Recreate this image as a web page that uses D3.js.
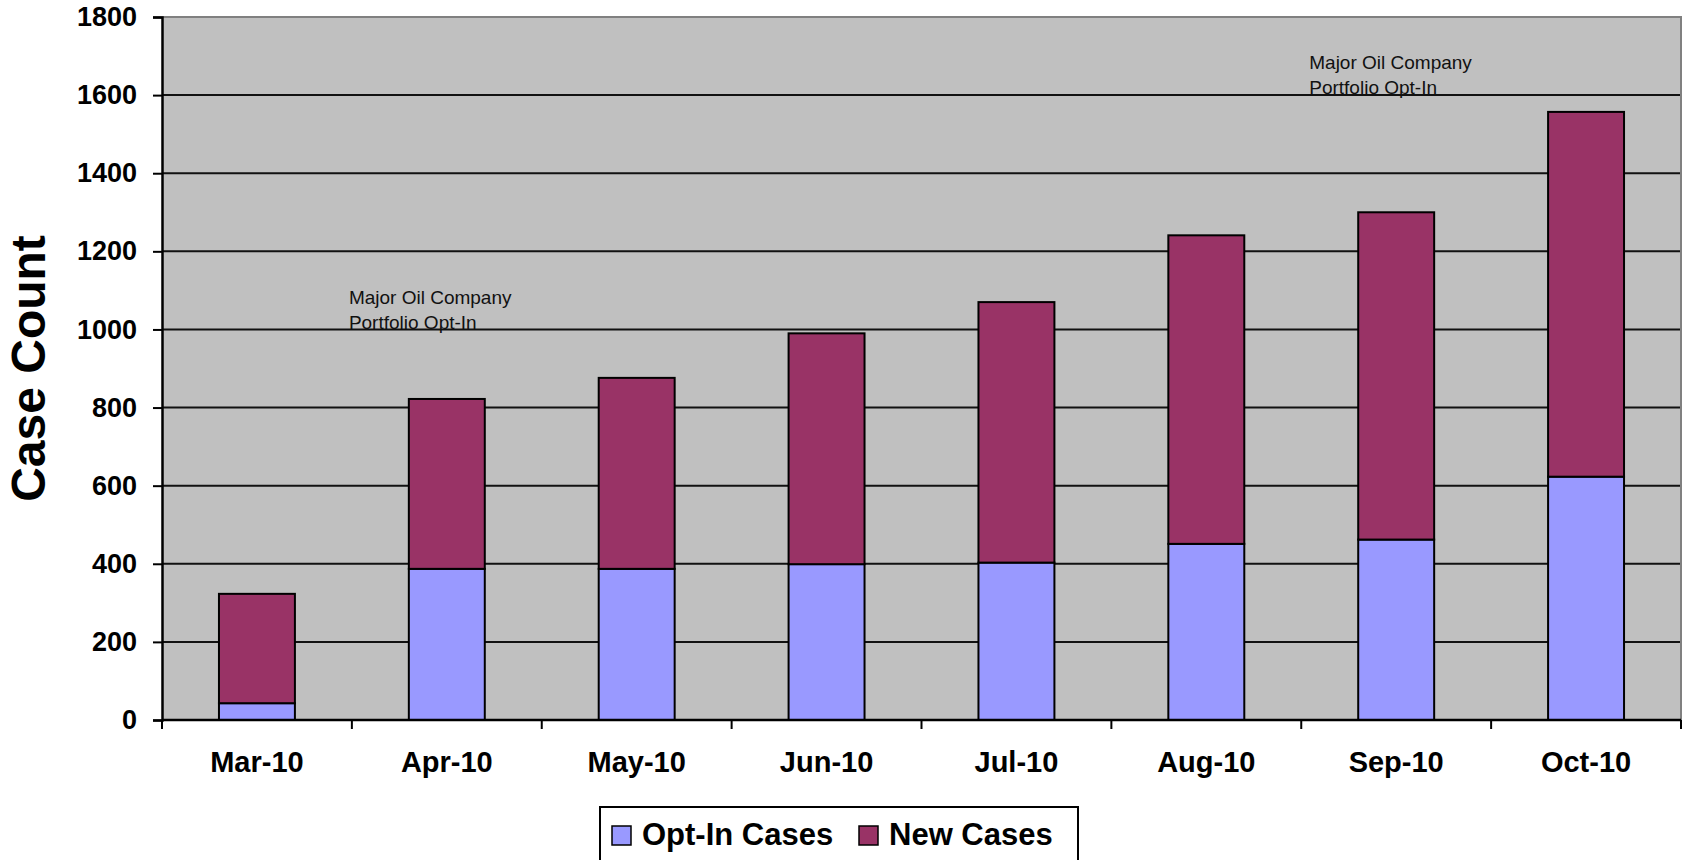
<!DOCTYPE html>
<html>
<head>
<meta charset="utf-8">
<script src="https://cdn.jsdelivr.net/npm/d3@7"></script>
<style>
  body { margin: 0; background: #fff; }
  svg { display: block; font-family: "Liberation Sans", Arial, sans-serif; }
</style>
</head>
<body>
<script>
var months = ["Mar-10", "Apr-10", "May-10", "Jun-10", "Jul-10", "Aug-10", "Sep-10", "Oct-10"];
var optInCases = [43, 387, 387, 399, 403, 451, 462, 623];
var newCases = [280, 435, 489, 591, 667, 790, 838, 934];
var yTicks = [0, 200, 400, 600, 800, 1000, 1200, 1400, 1600, 1800];
var seriesNames = ["Opt-In Cases", "New Cases"];
var noteLines = ["Major Oil Company", "Portfolio Opt-In"];
// where the two notes sit: month they start in, value of first baseline
var noteMonths = ["Apr-10", "Sep-10"];
var noteValues = [1065, 1666];

var width = 1686;
var height = 860;
var colors = ["#9999FF", "#993366"];
var noteShift = [-3, 8];

var plotLeft = 162, plotRight = 1681, plotTop = 17, plotBottom = 720;

var svg = d3.select("body")
  .append("svg")
  .attr("width", width)
  .attr("height", height);

var x = d3.scaleBand()
  .domain(months)
  .range([plotLeft, plotRight])
  .paddingInner(0.6)
  .paddingOuter(0.3);

var y = d3.scaleLinear()
  .domain([0, 1800])
  .range([plotBottom, plotTop]);

var step = x.step();

var rows = months.map(function(m, i){
  return {month: m, optIn: optInCases[i], newC: newCases[i]};
});
var stack = d3.stack().keys(["optIn", "newC"])(rows);

// plot background
svg.append("rect")
  .attr("x", plotLeft)
  .attr("y", plotTop)
  .attr("width", plotRight - plotLeft)
  .attr("height", plotBottom - plotTop)
  .attr("fill", "#C0C0C0");

// gridlines
svg.append("g")
  .selectAll("line")
  .data(yTicks.filter(function(t){ return t > 0 && t < 1800; }))
  .enter()
    .append("line")
    .attr("x1", plotLeft)
    .attr("x2", plotRight)
    .attr("y1", function(d){ return y(d); })
    .attr("y2", function(d){ return y(d); })
    .attr("stroke", "#111")
    .attr("stroke-width", 2);

// top and right border
svg.append("path")
  .attr("d", "M" + plotLeft + "," + plotTop + "H" + plotRight + "V" + plotBottom)
  .attr("fill", "none")
  .attr("stroke", "#808080")
  .attr("stroke-width", 2);

// bars
svg.append("g")
  .selectAll("g")
  .data(stack)
  .enter()
    .append("g")
    .attr("fill", function(d, i){ return colors[i]; })
    .selectAll("rect")
    .data(function(d){ return d; })
    .enter()
      .append("rect")
      .attr("x", function(d){ return x(d.data.month); })
      .attr("y", function(d){ return y(d[1]); })
      .attr("width", x.bandwidth())
      .attr("height", function(d){ return y(d[0]) - y(d[1]); })
      .attr("stroke", "#000")
      .attr("stroke-width", 2);

// y axis
var yAxis = d3.axisLeft(y)
  .tickValues(yTicks)
  .tickFormat(d3.format("d"))
  .tickSize(9)
  .tickPadding(16);

var gy = svg.append("g")
  .attr("transform", "translate(" + plotLeft + ",0)")
  .call(yAxis);
gy.select(".domain").attr("stroke", "#000").attr("stroke-width", 2.5);
gy.selectAll(".tick line").attr("stroke", "#000").attr("stroke-width", 2);
gy.selectAll(".tick text")
  .attr("font-size", 27)
  .attr("font-weight", "bold")
  .attr("font-family", "Liberation Sans, Arial, sans-serif")
  .attr("fill", "#000");

// x axis: labels centred on the months, ticks between them
var xAxis = d3.axisBottom(x).tickSize(0).tickPadding(30);
var gx = svg.append("g")
  .attr("transform", "translate(0," + plotBottom + ")")
  .call(xAxis);
gx.select(".domain").remove();
gx.selectAll(".tick text")
  .attr("font-size", 29)
  .attr("font-weight", "bold")
  .attr("font-family", "Liberation Sans, Arial, sans-serif")
  .attr("fill", "#000")
  .attr("dy", "0.75em");

svg.append("line")
  .attr("x1", plotLeft)
  .attr("x2", plotRight)
  .attr("y1", plotBottom)
  .attr("y2", plotBottom)
  .attr("stroke", "#000")
  .attr("stroke-width", 2.5);

svg.append("g")
  .selectAll("line")
  .data(d3.range(months.length + 1))
  .enter()
    .append("line")
    .attr("x1", function(i){ return plotLeft + i * step; })
    .attr("x2", function(i){ return plotLeft + i * step; })
    .attr("y1", plotBottom)
    .attr("y2", plotBottom + 9)
    .attr("stroke", "#000")
    .attr("stroke-width", 2);

// y axis title
svg.append("text")
  .attr("transform", "translate(45," + ((plotTop + plotBottom) / 2) + ") rotate(-90)")
  .attr("text-anchor", "middle")
  .attr("font-size", 48)
  .attr("font-weight", "bold")
  .text("Case Count");

// notes
noteMonths.forEach(function(m, k){
  var nx = x(m) - step * x.paddingInner() / 2 + noteShift[k];
  var t = svg.append("text")
    .attr("x", nx)
    .attr("y", y(noteValues[k]))
    .attr("font-size", 19)
    .attr("fill", "#111");
  noteLines.forEach(function(line, j){
    t.append("tspan")
      .attr("x", nx)
      .attr("dy", j === 0 ? 0 : 25)
      .text(line);
  });
});

// legend
var legend = svg.append("g").attr("transform", "translate(600,807)");
legend.append("rect")
  .attr("width", 478)
  .attr("height", 60)
  .attr("fill", "#fff")
  .attr("stroke", "#000")
  .attr("stroke-width", 2);

var legendX = [12, 259];
seriesNames.forEach(function(name, i){
  legend.append("rect")
    .attr("x", legendX[i])
    .attr("y", 19)
    .attr("width", 19)
    .attr("height", 19)
    .attr("fill", colors[i])
    .attr("stroke", "#000")
    .attr("stroke-width", 1.5);
  legend.append("text")
    .attr("x", legendX[i] + 30)
    .attr("y", 38)
    .attr("font-size", 31)
    .attr("font-weight", "bold")
    .text(name);
});
</script>
</body>
</html>
